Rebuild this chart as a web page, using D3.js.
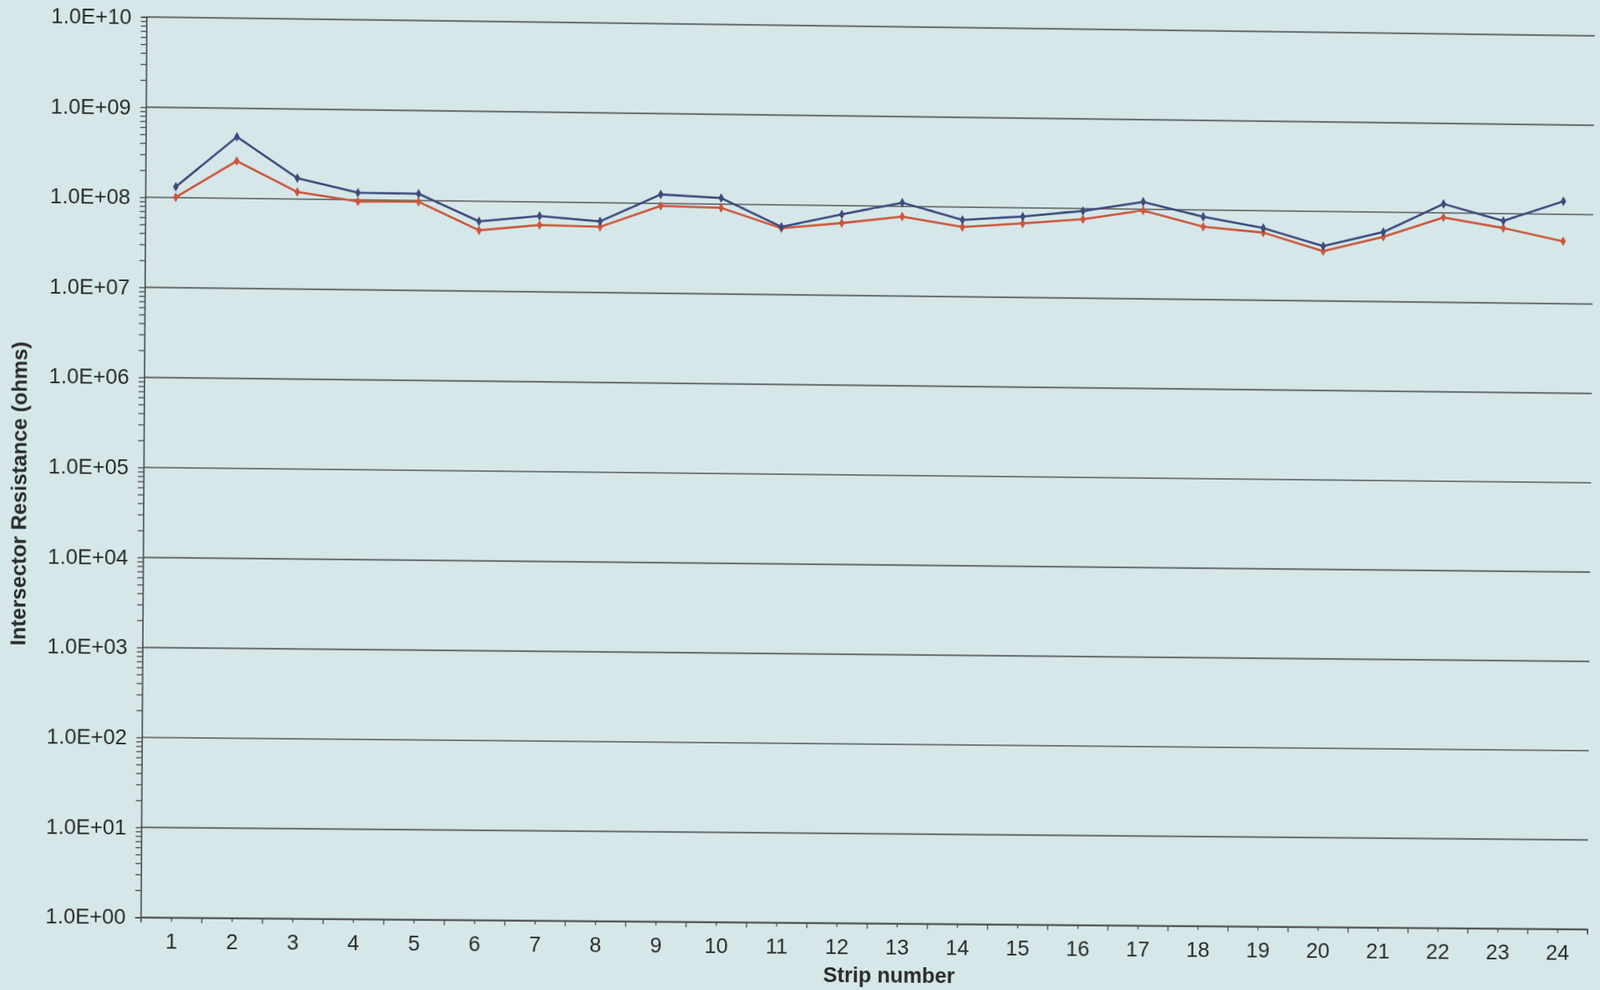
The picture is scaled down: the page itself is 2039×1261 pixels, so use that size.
<!DOCTYPE html>
<html>
<head>
<meta charset="utf-8">
<script src="https://cdn.jsdelivr.net/npm/d3@7"></script>
<style>
  html, body { margin: 0; padding: 0; background: #d5e7e9; overflow: hidden; }
  svg { display: block; }
  text { font-family: "Liberation Sans", Arial, sans-serif; fill: #2a2a2a; }
</style>
</head>
<body>
<svg id="chart" width="2039" height="1261"></svg>
<script>
// ---- data ----
const categories = [1,2,3,4,5,6,7,8,9,10,11,12,13,14,15,16,17,18,19,20,21,22,23,24];
const seriesBlue = [1.32e8, 4.82e8, 1.71e8, 1.20e8, 1.19e8, 5.98e7, 7.0e7, 6.2e7, 1.26e8, 1.17e8, 5.7e7, 8.0e7,
                    1.10e8, 7.2e7, 8.0e7, 9.4e7, 1.21e8, 8.4e7, 6.4e7, 4.1e7, 6.0e7, 1.26e8, 8.3e7, 1.40e8];
const seriesRed  = [1.01e8, 2.60e8, 1.20e8, 0.96e8, 0.97e8, 4.76e7, 5.55e7, 5.4e7, 9.4e7, 9.1e7, 5.5e7, 6.4e7,
                    7.7e7, 6.0e7, 6.7e7, 7.6e7, 9.7e7, 6.5e7, 5.7e7, 3.6e7, 5.3e7, 8.9e7, 6.9e7, 5.0e7];
const yMajorTicks = [1e0,1e1,1e2,1e3,1e4,1e5,1e6,1e7,1e8,1e9,1e10];
const yTickLabels = ["1.0E+00","1.0E+01","1.0E+02","1.0E+03","1.0E+04","1.0E+05","1.0E+06","1.0E+07","1.0E+08","1.0E+09","1.0E+10"];
const xTitle = "Strip number";
const yTitle = "Intersector Resistance (ohms)";

// ---- layout (unskewed) ----
const plotLeft = 186.7, plotTop = 21.7, plotW = 1845, plotH = 1146.6;

const svg = d3.select("#chart");
const root = svg.append("g");
const g = root.append("g").attr("transform", `translate(${plotLeft},${plotTop})`);

const x = d3.scaleLinear().domain([0.5, 24.5]).range([0, plotW]);
const y = d3.scaleLog().domain([1, 1e10]).range([plotH, 0]);

// gridlines
g.append("g").selectAll("line").data(yMajorTicks).join("line")
  .attr("x1", 0).attr("x2", plotW)
  .attr("y1", d => y(d)).attr("y2", d => y(d))
  .attr("stroke", "#4e4e4e").attr("stroke-width", 1.7);

// y axis (major + minor log ticks)
const minor = [];
for (let e = 0; e < 10; e++) for (let m = 1; m <= 9; m++) minor.push(m * Math.pow(10, e));
minor.push(1e10);
const yAxis = d3.axisLeft(y).tickValues(minor).tickSize(7).tickPadding(12)
  .tickFormat(d => { const i = yMajorTicks.indexOf(d); return i >= 0 ? yTickLabels[i] : ""; });
const ya = g.append("g").call(yAxis);
ya.select(".domain").attr("stroke", "#4a4a4a").attr("stroke-width", 1.7);
ya.selectAll(".tick line").attr("stroke", "#4a4a4a").attr("stroke-width", 1.4);
ya.selectAll(".tick text").style("font-size", "27px").attr("fill", "#2a2a2a")
  .style("font-family", "'Liberation Sans', Arial, sans-serif");

// x axis: labelled ticks at category centres, plain ticks at boundaries
const xAxis = d3.axisBottom(x).tickValues(categories).tickSize(5).tickPadding(16)
  .tickFormat(d => String(d));
const xa = g.append("g").attr("transform", `translate(0,${plotH})`).call(xAxis);
xa.select(".domain").attr("stroke", "#4a4a4a").attr("stroke-width", 1.7);
xa.selectAll(".tick line").attr("stroke", "#4a4a4a").attr("stroke-width", 1.4);
xa.selectAll(".tick text").style("font-size", "27px").attr("fill", "#2a2a2a")
  .style("font-family", "'Liberation Sans', Arial, sans-serif");

const boundaries = d3.range(0.5, 25, 1);
const xb = g.append("g").attr("transform", `translate(0,${plotH})`)
  .call(d3.axisBottom(x).tickValues(boundaries).tickSize(7).tickFormat(""));
xb.select(".domain").remove();
xb.selectAll(".tick line").attr("stroke", "#4a4a4a").attr("stroke-width", 1.4);

// series
const line = d3.line().x((d, i) => x(categories[i])).y(d => y(d));
const series = [
  { values: seriesBlue, color: "#3d4b7c" },
  { values: seriesRed,  color: "#cc563b" }
];
series.slice().reverse().forEach(s => {
  g.append("path").datum(s.values)
    .attr("fill", "none").attr("stroke", s.color).attr("stroke-width", 2.8)
    .attr("stroke-linejoin", "round").attr("d", line);
  g.append("g").selectAll("path").data(s.values).join("path")
    .attr("transform", (d, i) => `translate(${x(categories[i])},${y(d)})`)
    .attr("d", d3.symbol(d3.symbolDiamond, 44))
    .attr("fill", s.color);
});

// axis titles
root.append("text")
  .attr("x", 1138).attr("y", 1235)
  .attr("text-anchor", "middle").attr("dominant-baseline", "central")
  .style("font-size", "27px").style("font-weight", "bold")
  .text(xTitle);

root.append("text")
  .attr("transform", "translate(29,630) rotate(-90)")
  .attr("text-anchor", "middle").attr("dominant-baseline", "central")
  .style("font-size", "27px").style("font-weight", "bold")
  .text(yTitle);

// ---- slight keystone of the scanned page: map plot corners to where they sit in the scan ----
function solveHomography(src, dst) {
  const A = [], B = [];
  for (let i = 0; i < 4; i++) {
    const [sx, sy] = src[i], [dx, dy] = dst[i];
    A.push([sx, sy, 1, 0, 0, 0, -sx * dx, -sy * dx]); B.push(dx);
    A.push([0, 0, 0, sx, sy, 1, -sx * dy, -sy * dy]); B.push(dy);
  }
  const n = 8;
  for (let c = 0; c < n; c++) {
    let p = c;
    for (let r = c + 1; r < n; r++) if (Math.abs(A[r][c]) > Math.abs(A[p][c])) p = r;
    [A[c], A[p]] = [A[p], A[c]]; [B[c], B[p]] = [B[p], B[c]];
    for (let r = 0; r < n; r++) {
      if (r === c) continue;
      const f = A[r][c] / A[c][c];
      for (let k = c; k < n; k++) A[r][k] -= f * A[c][k];
      B[r] -= f * B[c];
    }
  }
  return B.map((b, i) => b / A[i][i]);
}
const srcCorners = [[plotLeft, plotTop], [plotLeft + plotW, plotTop],
                    [plotLeft, plotTop + plotH], [plotLeft + plotW, plotTop + plotH]];
const dstCorners = [[186.7, 21.7], [2032, 45.7], [179.3, 1168.3], [2022.3, 1183.3]];
const [a, b, c, d, e, f, gg, hh] = solveHomography(srcCorners, dstCorners);
svg.style("transform-origin", "0 0")
   .style("transform", `matrix3d(${a},${d},0,${gg},${b},${e},0,${hh},0,0,1,0,${c},${f},0,1)`);
</script>
</body>
</html>
